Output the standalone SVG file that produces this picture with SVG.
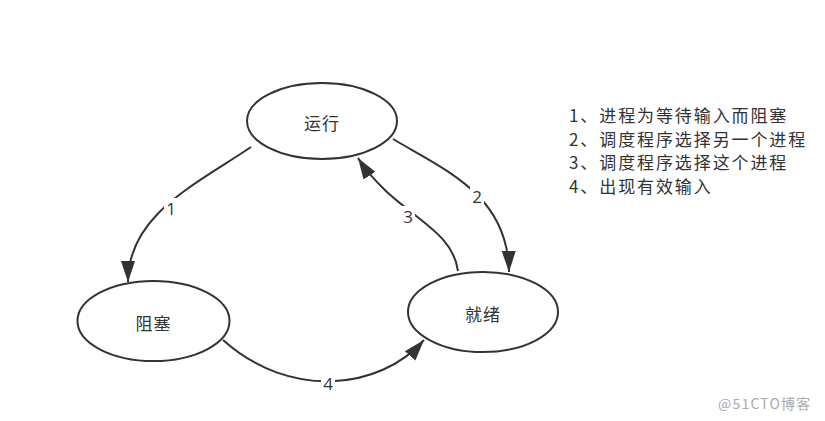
<svg xmlns="http://www.w3.org/2000/svg" width="825" height="421" viewBox="0 0 825 421">
<style>
.node ellipse{fill:#fff;stroke:#333;stroke-width:2}
.node text{font-family:"Noto Sans CJK SC",sans-serif;font-size:17px;letter-spacing:1px;fill:#333;text-anchor:middle;dominant-baseline:central}
.edge{fill:none;stroke:#333;stroke-width:2}
.lbl rect{fill:#fff}
.lbl text{font-family:"Open Sans","Noto Sans",sans-serif;font-size:17px;fill:#333;text-anchor:middle;dominant-baseline:central}
.legend{font-family:"Noto Sans CJK SC",sans-serif;font-size:17px;letter-spacing:1.9px;fill:#333}
.wm{font-family:"Noto Sans CJK SC",sans-serif;font-size:14px;letter-spacing:1.2px;fill:#aaa}
</style>
<defs>
<marker id="ah" markerUnits="userSpaceOnUse" markerWidth="22" markerHeight="16" refX="21" refY="8" orient="auto">
<path d="M0,1 L21,8 L0,15 Z" fill="#333"/>
</marker>
</defs>
<rect width="825" height="421" fill="#fff"/>
<g id="connectors">
<path class="edge" d="M251,147 C195,185 128,215 128,282" marker-end="url(#ah)"/>
<path class="edge" d="M393,139 C445,170 508,195 509,272" marker-end="url(#ah)"/>
<path class="edge" d="M458,271 C452,225 395,215 358,158" marker-end="url(#ah)"/>
<path class="edge" d="M223,340 C290,400 380,390 424,340" marker-end="url(#ah)"/>
<g class="lbl"><rect x="164" y="198" width="14" height="20"/><text x="171" y="208">1</text></g>
<g class="lbl"><rect x="470" y="186" width="14" height="20"/><text x="477" y="196">2</text></g>
<g class="lbl"><rect x="401" y="206" width="14" height="20"/><text x="408" y="216">3</text></g>
<g class="lbl"><rect x="321" y="373" width="14" height="20"/><text x="328" y="383">4</text></g>
</g>
<g id="running" class="node"><ellipse cx="322" cy="121" rx="75" ry="38"/><text x="322" y="122">运行</text></g>
<g id="blocked" class="node"><ellipse cx="153.5" cy="321" rx="76" ry="40"/><text x="153.5" y="322">阻塞</text></g>
<g id="ready" class="node"><ellipse cx="483" cy="312" rx="75" ry="40"/><text x="483" y="313">就绪</text></g>
<g id="legend" class="legend">
<text x="569" y="122">1、进程为等待输入而阻塞</text>
<text x="569" y="146">2、调度程序选择另一个进程</text>
<text x="569" y="169">3、调度程序选择这个进程</text>
<text x="569" y="193">4、出现有效输入</text>
</g>
<text class="wm" x="718" y="409">@51CTO博客</text>
</svg>
